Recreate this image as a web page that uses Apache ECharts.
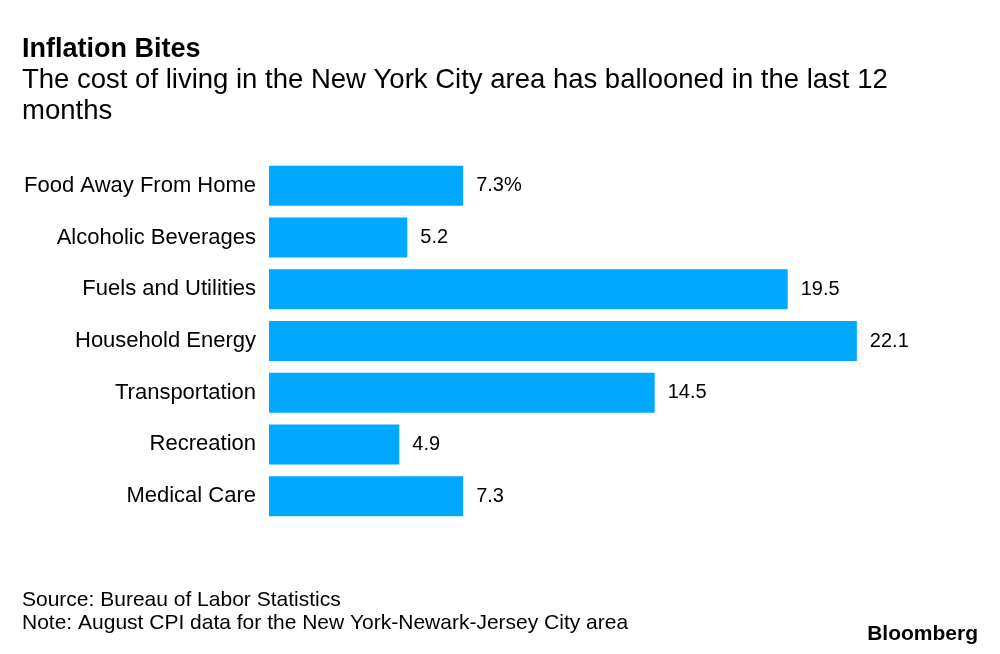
<!DOCTYPE html>
<html>
<head>
<meta charset="utf-8">
<script src="https://cdn.jsdelivr.net/npm/echarts@6/dist/echarts.min.js"></script>
<style>
html,body{margin:0;padding:0;background:#fff;}
#chart{width:1000px;height:654px;}
</style>
</head>
<body>
<div id="chart"></div>
<script>
const categories = ["Food Away From Home","Alcoholic Beverages","Fuels and Utilities","Household Energy","Transportation","Recreation","Medical Care"];
const values = [7.3, 5.2, 19.5, 22.1, 14.5, 4.9, 7.3];
const valueLabels = ["7.3%","5.2","19.5","22.1","14.5","4.9","7.3"];

const FONT = "Liberation Sans, Arial, Helvetica, sans-serif";
const chart = echarts.init(document.getElementById('chart'), null, {renderer:'canvas'});
chart.setOption({
  backgroundColor: '#ffffff',
  animation: false,
  title: {
    text: 'Inflation Bites',
    subtext: 'The cost of living in the New York City area has ballooned in the last 12\nmonths',
    left: 22, top: 36, padding: 0,
    itemGap: 2,
    textStyle: {fontFamily: FONT, fontSize: 27, fontWeight: 'bold', color: '#000'},
    subtextStyle: {fontFamily: FONT, fontSize: 27.5, color: '#000', lineHeight: 31}
  },
  grid: {left: 269, right: 66, top: 160, bottom: 132, containLabel: false},
  xAxis: {
    type: 'value', min: 0, max: 25,
    show: false
  },
  yAxis: {
    type: 'category', data: categories, inverse: true,
    axisLine: {show: false}, axisTick: {show: false}, splitLine: {show: false},
    axisLabel: {fontFamily: FONT, fontSize: 22, color: '#000', margin: 13}
  },
  series: [{
    type: 'bar',
    data: values,
    barWidth: 40,
    itemStyle: {color: '#00a9ff'},
    label: {
      show: true, position: 'right', distance: 13,
      fontFamily: FONT, fontSize: 20, color: '#000',
      formatter: p => valueLabels[p.dataIndex]
    }
  }],
  graphic: [
    {type: 'text', left: 22, top: 590, style: {text: 'Source: Bureau of Labor Statistics', fontFamily: FONT, fontSize: 21, fill: '#000'}},
    {type: 'text', left: 22, top: 613, style: {text: 'Note: August CPI data for the New York-Newark-Jersey City area', fontFamily: FONT, fontSize: 21, fill: '#000'}},
    {type: 'text', right: 22, top: 624, style: {text: 'Bloomberg', fontFamily: FONT, fontSize: 21, fontWeight: 'bold', fill: '#000'}}
  ]
});
</script>
</body>
</html>
